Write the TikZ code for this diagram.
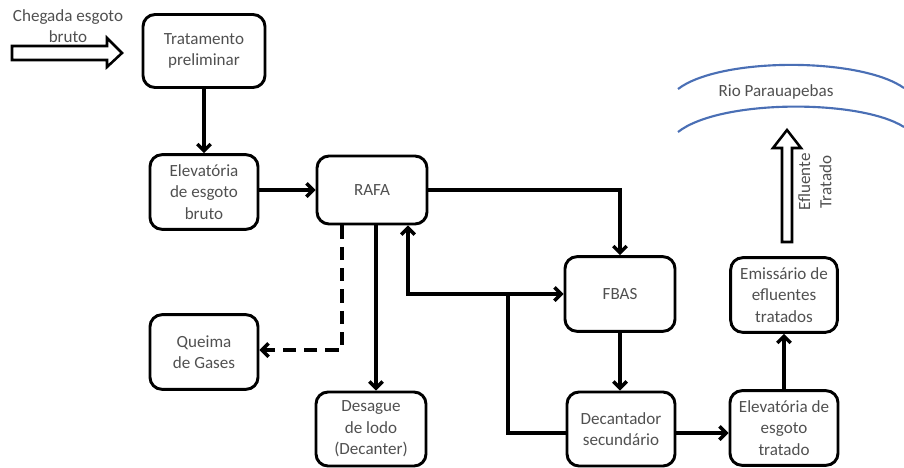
\documentclass[tikz,border=0pt]{standalone}
\usepackage{fontspec}
\setmainfont{Carlito}
\usetikzlibrary{arrows.meta,calc}
\definecolor{txt}{HTML}{505050}
\definecolor{river}{HTML}{4A6FB5}
\begin{document}
\begin{tikzpicture}[x=0.75pt,y=-0.75pt,
  proc/.style={draw, line width=2.2pt, rounded corners=9pt, align=center,
    text=txt, font=\fontsize{12.8}{16}\selectfont, inner sep=2pt,
    minimum width=81pt, minimum height=56pt},
  flow/.style={line width=2.6pt, -{Straight Barb[length=5pt,width=10pt]}},
  gas/.style={flow, dash pattern=on 10pt off 6pt},
  hollow/.style={draw, line width=1.9pt, fill=white, line join=miter},
  lbl/.style={text=txt, font=\fontsize{12.8}{16}\selectfont, align=center, inner sep=0pt}]
\useasboundingbox (0,0) rectangle (904,468);

% boxes
\node[proc, minimum width=91.5pt, minimum height=54.75pt] (trat) at (204,51) {Tratamento\\preliminar};
\node[proc] (elev) at (204,192) {Elevatória\\de esgoto\\bruto};
\node[proc, minimum width=82.5pt, minimum height=51pt] (rafa) at (372,190) {RAFA};
\node[proc] (queima) at (204,352) {Queima\\de Gases};
\node[proc, minimum width=82.5pt, minimum height=55.5pt] (desag) at (371,429) {Desague\\de lodo\\(Decanter)};
\node[proc, minimum width=82.5pt] (fbas) at (620,294) {FBAS};
\node[proc, minimum height=55.5pt] (decant) at (621,429) {Decantador\\secundário};
\node[proc] (eletr) at (784,428) {Elevatória de\\esgoto\\tratado};
\node[proc, minimum width=80pt] (emis) at (784,295) {Emissário de\\efluentes\\tratados};

% connectors
\draw[flow] (trat.south) -- (elev.north);
\draw[flow] (rafa.west -| elev.east) -- (rafa.west);
\draw[flow] (rafa.east) -| (fbas.north);
\draw[gas] (342,0 |- rafa.south) -- (342,350) -- (queima.east |- 342,350);
\draw[flow] (376,0 |- rafa.south) -- (376,0 |- desag.north);
\draw[flow] (fbas.south) -- (fbas.south |- decant.north);
\coordinate (split) at (508,0 |- fbas.west);
\draw[line width=2.6pt] ([yshift=-3pt]decant.west) -| (split);
\draw[flow] (split) -- (fbas.west);
\draw[flow] (split) -| (408,0 |- rafa.south);
\draw[flow] ([yshift=-3pt]decant.east) -- ([yshift=-3pt]decant.east -| eletr.west);
\draw[flow] (eletr.north) -- (emis.south);

% inflow hollow arrow
\draw[hollow] (12,46) -- (107,46) -- (107,38) -- (122,53) -- (107,67) -- (107,60) -- (12,60) -- cycle;
\node[lbl] (inlbl) at (68,26) {Chegada esgoto\\bruto};

% outflow hollow arrow
\draw[hollow] (782,242) -- (782,148) -- (773,148) -- (787,130) -- (801,148) -- (792,148) -- (792,242) -- cycle;
\node[lbl, rotate=90] (outlbl) at (815,182) {Efluente\\Tratado};

% river
\draw[river, line width=1.6pt] (678,89) .. controls (720,57) and (860,57) .. (904,88);
\draw[river, line width=1.6pt] (678,132) .. controls (720,99) and (860,99) .. (904,127);
\node[lbl] (rio) at (776,92) {Rio Parauapebas};
\end{tikzpicture}
\end{document}
